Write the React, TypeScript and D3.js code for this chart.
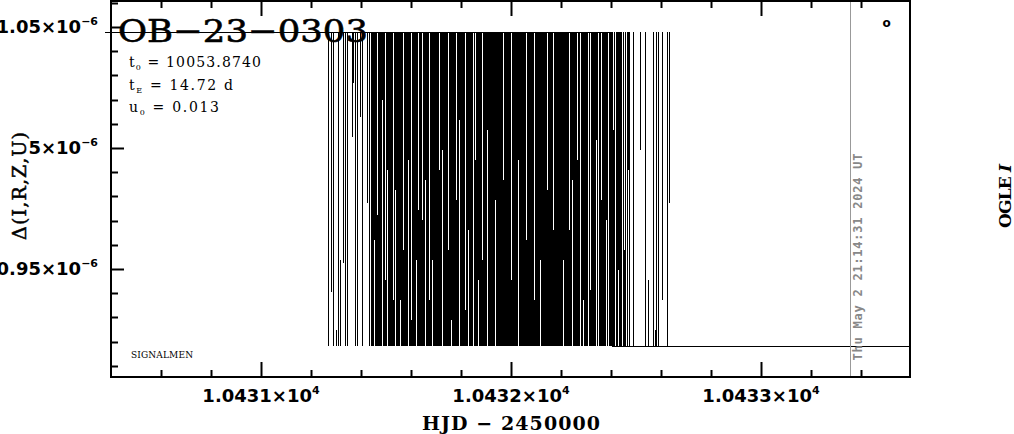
import React from "react";
import * as d3 from "d3";

// ---------- axis setup ----------
const X_DOMAIN: [number, number] = [10430.4, 10433.596];
const Y_DOMAIN: [number, number] = [0.90537, 1.06074];
const CLIP_LO = 0.918;
const CLIP_HI = 1.048;

const xMajorTicks = [10431, 10432, 10433];
const xTickMantissa = ["1.0431", "1.0432", "1.0433"];
const xTickExponent = "4";
const yMajorTicks = [0.95, 1.0, 1.05];
const yTickMantissa = ["0.95", "5", "1.05"];
const yTickExponent = "−6";

// ---------- data (HJD-2450000, flux in 1e-6) ----------
// error bars running off both ends of the window
const fullHJD = [
  10431.268, 10431.288, 10431.308, 10431.336, 10431.344, 10431.376, 10431.384, 10431.404, 10431.432,
  10431.440, 10431.444, 10431.448, 10431.456, 10431.460, 10431.468, 10431.472, 10431.476, 10431.480,
  10431.488, 10431.492, 10431.500, 10431.508, 10431.512, 10431.516, 10431.520, 10431.524, 10431.532,
  10431.540, 10431.544, 10431.548, 10431.552, 10431.560, 10431.564, 10431.572, 10431.576, 10431.580,
  10431.584, 10431.592, 10431.596, 10431.604, 10431.608, 10431.612, 10431.616, 10431.624, 10431.632,
  10431.636, 10431.640, 10431.648, 10431.652, 10431.660, 10431.664, 10431.668, 10431.676, 10431.680,
  10431.688, 10431.692, 10431.696, 10431.700, 10431.704, 10431.708, 10431.716, 10431.720, 10431.728,
  10431.732, 10431.736, 10431.740, 10431.744, 10431.752, 10431.756, 10431.764, 10431.768, 10431.772,
  10431.776, 10431.784, 10431.788, 10431.796, 10431.800, 10431.804, 10431.808, 10431.812, 10431.820,
  10431.824, 10431.832, 10431.836, 10431.840, 10431.844, 10431.852, 10431.860, 10431.864, 10431.872,
  10431.876, 10431.880, 10431.888, 10431.892, 10431.896, 10431.900, 10431.908, 10431.912,
  10431.916, 10431.920, 10431.924, 10431.928, 10431.932, 10431.940, 10431.944, 10431.948, 10431.952,
  10431.956, 10431.960, 10431.964, 10431.972, 10431.976, 10431.980, 10431.984, 10431.988, 10431.992,
  10431.996, 10432.004, 10432.008, 10432.012, 10432.016, 10432.020, 10432.024, 10432.032, 10432.036,
  10432.040, 10432.044, 10432.048, 10432.052, 10432.056, 10432.064, 10432.068, 10432.072, 10432.076,
  10432.080, 10432.084, 10432.088, 10432.096, 10432.100, 10432.104, 10432.108, 10432.112, 10432.120,
  10432.124, 10432.128, 10432.132, 10432.136, 10432.140, 10432.148, 10432.152, 10432.156, 10432.160,
  10432.164, 10432.172, 10432.176, 10432.180, 10432.184, 10432.188, 10432.192, 10432.196,
  10432.200, 10432.204, 10432.212, 10432.216, 10432.220, 10432.224, 10432.228, 10432.236, 10432.240,
  10432.248, 10432.252, 10432.256, 10432.260, 10432.268, 10432.272, 10432.280, 10432.284, 10432.292,
  10432.296, 10432.300, 10432.304, 10432.312, 10432.320, 10432.324, 10432.328, 10432.332, 10432.336,
  10432.344, 10432.352, 10432.356, 10432.364, 10432.368, 10432.372, 10432.376, 10432.384, 10432.392,
  10432.396, 10432.400, 10432.404, 10432.412, 10432.420, 10432.424, 10432.432, 10432.436, 10432.440,
  10432.448, 10432.456, 10432.464, 10432.472,
  10432.488, 10432.536, 10432.568, 10432.580, 10432.588, 10432.624,
];

// error bars whose upper end is off the window; value = lower end
const hangHJD = [
  10431.280, 10431.328, 10431.364, 10431.368, 10431.396, 10431.424, 10431.452, 10431.484, 10431.504,
  10431.536, 10431.556, 10431.588, 10431.620, 10431.656, 10431.684, 10431.724, 10431.760, 10431.792,
  10431.828, 10431.868, 10431.904, 10431.936, 10432.028, 10432.116, 10432.208, 10432.244, 10432.288,
  10432.340, 10432.380, 10432.428, 10432.468, 10432.516, 10432.604, 10432.632,
];
const hangFlux = [
  0.9405, 0.9525, 1.0045, 1.0268, 1.0128, 0.9773, 0.962, 1.0198, 0.9909,
  0.9827, 0.9372, 0.995, 0.9537, 0.9868, 0.9537, 0.9992, 0.929, 1.0116,
  0.9661, 0.9455, 1.0074, 0.9785, 0.995, 0.9537, 0.9537, 0.9868, 0.9372,
  1.0033, 0.9703, 0.9496, 0.9909, 0.9992, 0.9372, 0.9773,
];

// error bars whose lower end is off the window; value = upper end
const riseHJD = [
  10431.300, 10431.316, 10431.464, 10431.496, 10431.528, 10431.568, 10431.600, 10431.628, 10431.644,
  10431.672, 10431.712, 10431.748, 10431.780, 10431.816, 10431.856, 10431.884, 10431.968, 10432.000,
  10432.060, 10432.092, 10432.144, 10432.168, 10432.232, 10432.264, 10432.316, 10432.360, 10432.408,
  10432.452, 10432.548, 10432.576,
];
const riseFlux = [
  0.9248, 0.9537, 0.9723, 0.9455, 0.9372, 0.9579, 0.929, 0.9744, 0.9703,
  0.9372, 0.9909, 0.9579, 0.9785, 0.9331, 0.995, 0.9537, 0.9868, 0.9455,
  0.962, 0.9372, 0.9827, 0.9661, 0.9661, 0.995, 0.9414, 0.9785, 1.0074,
  0.9579, 0.9455, 0.9248,
];

// fitted curve (off-scale, drawn clamped to the window)
const fitHJD = [10430.376, 10432.404, 10432.404, 10433.596];
const fitFlux = [1.2, 1.2, 0.8, 0.8];

const W = 1014;
const H = 434;
const L = 111, R = 910, T = 1, B = 377;

export default function App() {
  const x = d3.scaleLinear().domain(X_DOMAIN).range([L, R]);
  const y = d3.scaleLinear().domain(Y_DOMAIN).range([B, T]);
  const yc = (v: number) => y(Math.max(CLIP_LO, Math.min(CLIP_HI, v)));

  const xTicks = x.ticks(16);
  const yTicks = y.ticks(16);
  const isXMajor = (t: number) => xMajorTicks.some((m) => Math.abs(m - t) < 1e-6);
  const isYMajor = (t: number) => yMajorTicks.some((m) => Math.abs(m - t) < 1e-6);

  const px = (t: number) => Math.round(x(t)) + 0.5;
  let bars = "";
  fullHJD.forEach((t) => {
    bars += `M${px(t)},${yc(CLIP_LO)}V${yc(CLIP_HI)}`;
  });
  hangHJD.forEach((t, i) => {
    bars += `M${px(t)},${yc(CLIP_HI)}V${yc(hangFlux[i])}`;
  });
  riseHJD.forEach((t, i) => {
    bars += `M${px(t)},${yc(CLIP_LO)}V${yc(riseFlux[i])}`;
  });

  const fitLine = d3
    .line<[number, number]>()
    .x((d) => x(d[0]))
    .y((d) => Math.round(yc(d[1])) + 0.5)(fitHJD.map((t, i) => [t, fitFlux[i]] as [number, number]));

  const tickFont = "'DejaVu Sans', sans-serif";
  const serif = "'DejaVu Serif', serif";

  return (
    <svg width={W} height={H} style={{ position: "absolute", left: 0, top: 0, background: "#fff" }}>
      <rect x={0} y={0} width={W} height={H} fill="#fff" />

      {/* title & parameters */}
      <text x={118} y={42} fontFamily={serif} fontSize={32} textLength={250} lengthAdjust="spacingAndGlyphs" stroke="#000" strokeWidth={0.6}>
        OB−23−0303
      </text>
      <text x={129} y={67} fontFamily={serif} fontSize={14} textLength={132}>
        t<tspan fontSize={8} dy={3}>0</tspan>
        <tspan dy={-3}> = 10053.8740</tspan>
      </text>
      <text x={129} y={90} fontFamily={serif} fontSize={14} textLength={104}>
        t<tspan fontSize={8} dy={3}>E</tspan>
        <tspan dy={-3}> = 14.72 d</tspan>
      </text>
      <text x={129} y={112} fontFamily={serif} fontSize={14} textLength={90}>
        u<tspan fontSize={8} dy={3}>0</tspan>
        <tspan dy={-3}> = 0.013</tspan>
      </text>
      <text x={131} y={358} fontFamily={serif} fontSize={9} textLength={62}>
        SIGNALMEN
      </text>

      {/* data */}
      <path d={bars} stroke="#000" strokeWidth={1} fill="none" shapeRendering="crispEdges" />
      <path d={fitLine || ""} stroke="#000" strokeWidth={1} fill="none" shapeRendering="crispEdges" />

      {/* grey date line */}
      <line x1={850.5} x2={850.5} y1={0} y2={B} stroke="#999" strokeWidth={1} />
      <text
        transform={`translate(862,257) rotate(-90)`}
        textAnchor="middle"
        fontFamily="'DejaVu Sans Mono', monospace"
        fontWeight="bold"
        fontSize={12}
        fill="#888"
        textLength={207}
      >
        Thu May  2 21:14:31 2024 UT
      </text>
      <text x={886.5} y={27} textAnchor="middle" fontFamily={tickFont} fontWeight="bold" fontSize={12}>
        o
      </text>

      {/* frame */}
      <rect x={L} y={T} width={R - L} height={B - T} fill="none" stroke="#000" strokeWidth={2} />

      {/* x ticks */}
      {xTicks.map((t) => {
        const len = isXMajor(t) ? 15 : 7;
        const xx = Math.round(x(t)) + 0.5;
        if (xx <= L + 1 || xx >= R - 1) return null;
        return (
          <g key={"xt" + t}>
            <line x1={xx} x2={xx} y1={B} y2={B - len} stroke="#000" strokeWidth={2} />
            <line x1={xx} x2={xx} y1={T} y2={T + len} stroke="#000" strokeWidth={2} />
          </g>
        );
      })}
      {/* y ticks */}
      {yTicks.map((t) => {
        const len = isYMajor(t) ? 13 : 7;
        const yy = Math.round(y(t)) + 0.5;
        if (yy <= T + 1 || yy >= B - 1) return null;
        return <line key={"yt" + t} x1={L} x2={L + len} y1={yy} y2={yy} stroke="#000" strokeWidth={2} />;
      })}

      {/* x tick labels */}
      {xMajorTicks.map((t, i) => (
        <text key={"xl" + t} x={x(t)} y={402} textAnchor="middle" fontFamily={tickFont} fontWeight="bold" fontSize={18}>
          {xTickMantissa[i]}×10
          <tspan fontSize={11} dy={-8}>
            {xTickExponent}
          </tspan>
        </text>
      ))}
      {/* y tick labels */}
      {yMajorTicks.map((t, i) => (
        <text key={"yl" + t} x={98} y={y(t) + 6} textAnchor="end" fontFamily={tickFont} fontWeight="bold" fontSize={18}>
          {yTickMantissa[i]}×10
          <tspan fontSize={11} dy={-8}>
            {yTickExponent}
          </tspan>
        </text>
      ))}

      {/* axis titles */}
      <text x={511} y={430} textAnchor="middle" fontFamily={serif} fontWeight="bold" fontSize={19} textLength={178}>
        HJD − 2450000
      </text>
      <text
        transform="translate(26,186) rotate(-90)"
        textAnchor="middle"
        fontFamily={serif}
        fontSize={19}
        stroke="#000"
        strokeWidth={0.5}
        textLength={108}
      >
        Δ(I,R,Z,U)
      </text>
      <text
        transform="translate(1011,196) rotate(-90)"
        textAnchor="middle"
        fontFamily={serif}
        fontWeight="bold"
        fontSize={17}
        textLength={64}
      >
        OGLE <tspan fontStyle="italic">I</tspan>
      </text>
    </svg>
  );
}
